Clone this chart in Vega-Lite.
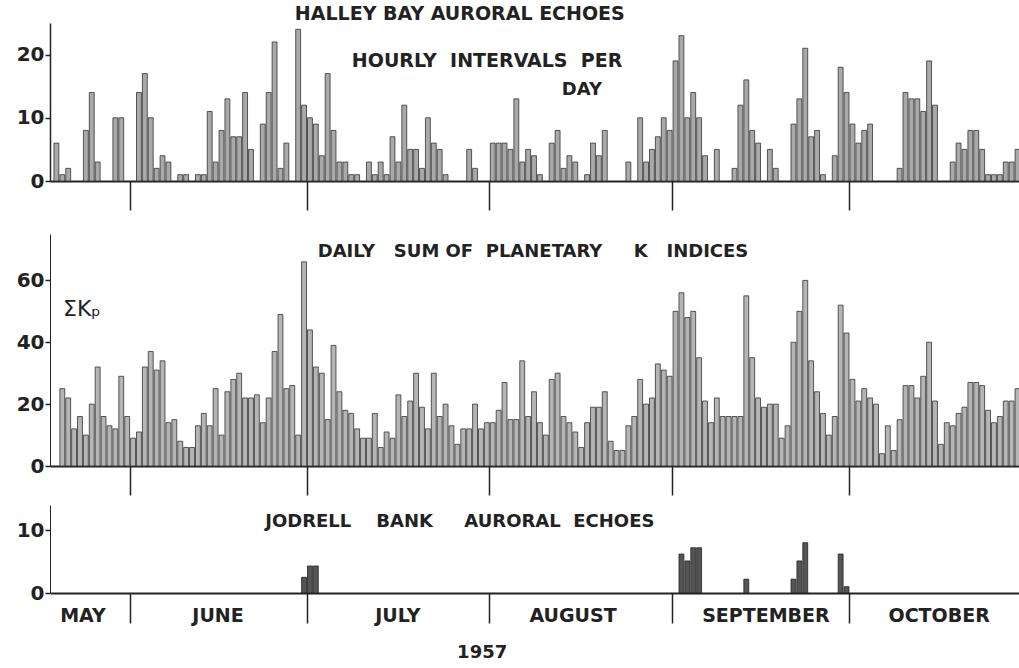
{
  "$schema": "https://vega.github.io/schema/vega-lite/v6.json",
  "background": "white",
  "padding": {"left": 16, "top": 5, "right": 0, "bottom": 0},
  "config": {
    "view": {"stroke": null},
    "font": "DejaVu Sans",
    "axis": {"grid": false, "domainColor": "#222", "tickColor": "#222", "labelColor": "#222", "labelFont": "DejaVu Sans", "labelFontWeight": "bold", "labelFontSize": 20, "titleFont": "DejaVu Sans"},
    "text": {"font": "DejaVu Sans", "fontWeight": "bold", "fill": "#222"}
  },
  "datasets": {
    "halley": [
      {"d":"1957-05-19","v":6},{"d":"1957-05-20","v":1},{"d":"1957-05-21","v":2},{"d":"1957-05-24","v":8},{"d":"1957-05-25","v":14},{"d":"1957-05-26","v":3},{"d":"1957-05-29","v":10},{"d":"1957-05-30","v":10},
      {"d":"1957-06-02","v":14},{"d":"1957-06-03","v":17},{"d":"1957-06-04","v":10},{"d":"1957-06-05","v":2},{"d":"1957-06-06","v":4},{"d":"1957-06-07","v":3},{"d":"1957-06-09","v":1},{"d":"1957-06-10","v":1},{"d":"1957-06-12","v":1},{"d":"1957-06-13","v":1},{"d":"1957-06-14","v":11},{"d":"1957-06-15","v":3},{"d":"1957-06-16","v":8},{"d":"1957-06-17","v":13},{"d":"1957-06-18","v":7},{"d":"1957-06-19","v":7},{"d":"1957-06-20","v":14},{"d":"1957-06-21","v":5},{"d":"1957-06-23","v":9},{"d":"1957-06-24","v":14},{"d":"1957-06-25","v":22},{"d":"1957-06-26","v":2},{"d":"1957-06-27","v":6},{"d":"1957-06-29","v":24},{"d":"1957-06-30","v":12},
      {"d":"1957-07-01","v":10},{"d":"1957-07-02","v":9},{"d":"1957-07-03","v":4},{"d":"1957-07-04","v":17},{"d":"1957-07-05","v":8},{"d":"1957-07-06","v":3},{"d":"1957-07-07","v":3},{"d":"1957-07-08","v":1},{"d":"1957-07-09","v":1},{"d":"1957-07-11","v":3},{"d":"1957-07-12","v":1},{"d":"1957-07-13","v":3},{"d":"1957-07-14","v":1},{"d":"1957-07-15","v":7},{"d":"1957-07-16","v":3},{"d":"1957-07-17","v":12},{"d":"1957-07-18","v":5},{"d":"1957-07-19","v":5},{"d":"1957-07-20","v":2},{"d":"1957-07-21","v":10},{"d":"1957-07-22","v":6},{"d":"1957-07-23","v":5},{"d":"1957-07-24","v":1},{"d":"1957-07-28","v":5},{"d":"1957-07-29","v":2},
      {"d":"1957-08-01","v":6},{"d":"1957-08-02","v":6},{"d":"1957-08-03","v":6},{"d":"1957-08-04","v":5},{"d":"1957-08-05","v":13},{"d":"1957-08-06","v":3},{"d":"1957-08-07","v":5},{"d":"1957-08-08","v":4},{"d":"1957-08-09","v":1},{"d":"1957-08-11","v":6},{"d":"1957-08-12","v":8},{"d":"1957-08-13","v":2},{"d":"1957-08-14","v":4},{"d":"1957-08-15","v":3},{"d":"1957-08-17","v":1},{"d":"1957-08-18","v":6},{"d":"1957-08-19","v":4},{"d":"1957-08-20","v":8},{"d":"1957-08-24","v":3},{"d":"1957-08-26","v":10},{"d":"1957-08-27","v":3},{"d":"1957-08-28","v":5},{"d":"1957-08-29","v":7},{"d":"1957-08-30","v":10},{"d":"1957-08-31","v":8},
      {"d":"1957-09-01","v":19},{"d":"1957-09-02","v":23},{"d":"1957-09-03","v":10},{"d":"1957-09-04","v":14},{"d":"1957-09-05","v":10},{"d":"1957-09-06","v":4},{"d":"1957-09-08","v":5},{"d":"1957-09-11","v":2},{"d":"1957-09-12","v":12},{"d":"1957-09-13","v":16},{"d":"1957-09-14","v":8},{"d":"1957-09-15","v":6},{"d":"1957-09-17","v":5},{"d":"1957-09-18","v":2},{"d":"1957-09-21","v":9},{"d":"1957-09-22","v":13},{"d":"1957-09-23","v":21},{"d":"1957-09-24","v":7},{"d":"1957-09-25","v":8},{"d":"1957-09-26","v":1},{"d":"1957-09-28","v":4},{"d":"1957-09-29","v":18},{"d":"1957-09-30","v":14},
      {"d":"1957-10-01","v":9},{"d":"1957-10-02","v":6},{"d":"1957-10-03","v":8},{"d":"1957-10-04","v":9},{"d":"1957-10-09","v":2},{"d":"1957-10-10","v":14},{"d":"1957-10-11","v":13},{"d":"1957-10-12","v":13},{"d":"1957-10-13","v":11},{"d":"1957-10-14","v":19},{"d":"1957-10-15","v":12},{"d":"1957-10-18","v":3},{"d":"1957-10-19","v":6},{"d":"1957-10-20","v":5},{"d":"1957-10-21","v":8},{"d":"1957-10-22","v":8},{"d":"1957-10-23","v":5},{"d":"1957-10-24","v":1},{"d":"1957-10-25","v":1},{"d":"1957-10-26","v":1},{"d":"1957-10-27","v":3},{"d":"1957-10-28","v":3},{"d":"1957-10-29","v":5}
    ],
    "kp": [
      {"d":"1957-05-20","v":25},{"d":"1957-05-21","v":22},{"d":"1957-05-22","v":12},{"d":"1957-05-23","v":16},{"d":"1957-05-24","v":10},{"d":"1957-05-25","v":20},{"d":"1957-05-26","v":32},{"d":"1957-05-27","v":16},{"d":"1957-05-28","v":13},{"d":"1957-05-29","v":12},{"d":"1957-05-30","v":29},{"d":"1957-05-31","v":16},
      {"d":"1957-06-01","v":9},{"d":"1957-06-02","v":11},{"d":"1957-06-03","v":32},{"d":"1957-06-04","v":37},{"d":"1957-06-05","v":31},{"d":"1957-06-06","v":34},{"d":"1957-06-07","v":14},{"d":"1957-06-08","v":15},{"d":"1957-06-09","v":8},{"d":"1957-06-10","v":6},{"d":"1957-06-11","v":6},{"d":"1957-06-12","v":13},{"d":"1957-06-13","v":17},{"d":"1957-06-14","v":13},{"d":"1957-06-15","v":25},{"d":"1957-06-16","v":10},{"d":"1957-06-17","v":24},{"d":"1957-06-18","v":28},{"d":"1957-06-19","v":30},{"d":"1957-06-20","v":22},{"d":"1957-06-21","v":22},{"d":"1957-06-22","v":23},{"d":"1957-06-23","v":14},{"d":"1957-06-24","v":22},{"d":"1957-06-25","v":37},{"d":"1957-06-26","v":49},{"d":"1957-06-27","v":25},{"d":"1957-06-28","v":26},{"d":"1957-06-29","v":10},{"d":"1957-06-30","v":66},
      {"d":"1957-07-01","v":44},{"d":"1957-07-02","v":32},{"d":"1957-07-03","v":30},{"d":"1957-07-04","v":15},{"d":"1957-07-05","v":39},{"d":"1957-07-06","v":24},{"d":"1957-07-07","v":18},{"d":"1957-07-08","v":17},{"d":"1957-07-09","v":12},{"d":"1957-07-10","v":9},{"d":"1957-07-11","v":9},{"d":"1957-07-12","v":17},{"d":"1957-07-13","v":6},{"d":"1957-07-14","v":11},{"d":"1957-07-15","v":9},{"d":"1957-07-16","v":23},{"d":"1957-07-17","v":16},{"d":"1957-07-18","v":21},{"d":"1957-07-19","v":30},{"d":"1957-07-20","v":19},{"d":"1957-07-21","v":12},{"d":"1957-07-22","v":30},{"d":"1957-07-23","v":16},{"d":"1957-07-24","v":20},{"d":"1957-07-25","v":13},{"d":"1957-07-26","v":7},{"d":"1957-07-27","v":12},{"d":"1957-07-28","v":12},{"d":"1957-07-29","v":20},{"d":"1957-07-30","v":12},{"d":"1957-07-31","v":14},
      {"d":"1957-08-01","v":14},{"d":"1957-08-02","v":18},{"d":"1957-08-03","v":27},{"d":"1957-08-04","v":15},{"d":"1957-08-05","v":15},{"d":"1957-08-06","v":34},{"d":"1957-08-07","v":16},{"d":"1957-08-08","v":24},{"d":"1957-08-09","v":14},{"d":"1957-08-10","v":10},{"d":"1957-08-11","v":28},{"d":"1957-08-12","v":30},{"d":"1957-08-13","v":16},{"d":"1957-08-14","v":14},{"d":"1957-08-15","v":11},{"d":"1957-08-16","v":6},{"d":"1957-08-17","v":14},{"d":"1957-08-18","v":19},{"d":"1957-08-19","v":19},{"d":"1957-08-20","v":24},{"d":"1957-08-21","v":8},{"d":"1957-08-22","v":5},{"d":"1957-08-23","v":5},{"d":"1957-08-24","v":13},{"d":"1957-08-25","v":16},{"d":"1957-08-26","v":28},{"d":"1957-08-27","v":20},{"d":"1957-08-28","v":22},{"d":"1957-08-29","v":33},{"d":"1957-08-30","v":31},{"d":"1957-08-31","v":29},
      {"d":"1957-09-01","v":50},{"d":"1957-09-02","v":56},{"d":"1957-09-03","v":48},{"d":"1957-09-04","v":50},{"d":"1957-09-05","v":35},{"d":"1957-09-06","v":21},{"d":"1957-09-07","v":14},{"d":"1957-09-08","v":22},{"d":"1957-09-09","v":16},{"d":"1957-09-10","v":16},{"d":"1957-09-11","v":16},{"d":"1957-09-12","v":16},{"d":"1957-09-13","v":55},{"d":"1957-09-14","v":35},{"d":"1957-09-15","v":22},{"d":"1957-09-16","v":19},{"d":"1957-09-17","v":20},{"d":"1957-09-18","v":20},{"d":"1957-09-19","v":9},{"d":"1957-09-20","v":13},{"d":"1957-09-21","v":40},{"d":"1957-09-22","v":50},{"d":"1957-09-23","v":60},{"d":"1957-09-24","v":34},{"d":"1957-09-25","v":24},{"d":"1957-09-26","v":17},{"d":"1957-09-27","v":10},{"d":"1957-09-28","v":16},{"d":"1957-09-29","v":52},{"d":"1957-09-30","v":43},
      {"d":"1957-10-01","v":28},{"d":"1957-10-02","v":21},{"d":"1957-10-03","v":25},{"d":"1957-10-04","v":22},{"d":"1957-10-05","v":20},{"d":"1957-10-06","v":4},{"d":"1957-10-07","v":13},{"d":"1957-10-08","v":5},{"d":"1957-10-09","v":15},{"d":"1957-10-10","v":26},{"d":"1957-10-11","v":26},{"d":"1957-10-12","v":22},{"d":"1957-10-13","v":29},{"d":"1957-10-14","v":40},{"d":"1957-10-15","v":21},{"d":"1957-10-16","v":7},{"d":"1957-10-17","v":14},{"d":"1957-10-18","v":13},{"d":"1957-10-19","v":17},{"d":"1957-10-20","v":19},{"d":"1957-10-21","v":27},{"d":"1957-10-22","v":27},{"d":"1957-10-23","v":26},{"d":"1957-10-24","v":18},{"d":"1957-10-25","v":14},{"d":"1957-10-26","v":16},{"d":"1957-10-27","v":21},{"d":"1957-10-28","v":21},{"d":"1957-10-29","v":25}
    ],
    "jodrell": [
      {"d":"1957-06-30","v":2.5},{"d":"1957-07-01","v":4.3},{"d":"1957-07-02","v":4.3},
      {"d":"1957-09-02","v":6.2},{"d":"1957-09-03","v":5.1},{"d":"1957-09-04","v":7.2},{"d":"1957-09-05","v":7.2},
      {"d":"1957-09-13","v":2.2},{"d":"1957-09-21","v":2.2},{"d":"1957-09-22","v":5.1},{"d":"1957-09-23","v":8},
      {"d":"1957-09-29","v":6.2},{"d":"1957-09-30","v":1}
    ],
    "months": [
      {"month":"MAY","mid":"1957-05-24T02:00:00Z"},
      {"month":"JUNE","mid":"1957-06-16T00:00:00Z"},
      {"month":"JULY","mid":"1957-07-16T12:00:00Z"},
      {"month":"AUGUST","mid":"1957-08-15T05:00:00Z"},
      {"month":"SEPTEMBER","mid":"1957-09-16T22:00:00Z"},
      {"month":"OCTOBER","mid":"1957-10-16T07:00:00Z"}
    ]
  },
  "spacing": 23,
  "vconcat": [
    {
      "width": 969,
      "height": 158,
      "layer": [
        {
          "data": {"name": "halley"},
          "mark": {"type": "bar", "fill": "#a9a9a9", "stroke": "#333", "strokeWidth": 0.8},
          "encoding": {
            "x": {"field": "d", "type": "temporal", "timeUnit": "utcyearmonthdate",
              "scale": {"domain": [{"year":1957,"month":5,"date":18,"hours":12,"utc":true},{"year":1957,"month":10,"date":29,"hours":20,"utc":true}]},
              "axis": {"values": [{"year":1957,"month":6,"date":1,"utc":true},{"year":1957,"month":7,"date":1,"utc":true},{"year":1957,"month":8,"date":1,"utc":true},{"year":1957,"month":9,"date":1,"utc":true},{"year":1957,"month":10,"date":1,"utc":true}],
                "labels": false, "title": null, "tickSize": 29, "tickWidth": 1.5, "domainWidth": 2}},
            "y": {"field": "v", "type": "quantitative", "scale": {"domain": [0, 25], "nice": false},
              "axis": {"values": [0, 10, 20], "title": null, "tickSize": 5, "tickWidth": 1.5, "labelPadding": 1, "domainWidth": 1.5}}
          }
        },
        {
          "data": {"values": [{}]},
          "mark": {"type": "text", "text": "HALLEY BAY AURORAL ECHOES", "fontSize": 19},
          "encoding": {"x": {"datum": {"year":1957,"month":7,"date":27,"utc":true}, "type": "temporal"}, "y": {"datum": 26.4, "type": "quantitative"}}
        },
        {
          "data": {"values": [{}]},
          "mark": {"type": "text", "text": "HOURLY\u00a0 INTERVALS\u00a0 PER", "fontSize": 19},
          "encoding": {"x": {"datum": {"year":1957,"month":7,"date":31,"hours":15,"utc":true}, "type": "temporal"}, "y": {"datum": 19, "type": "quantitative"}}
        },
        {
          "data": {"values": [{}]},
          "mark": {"type": "text", "text": "DAY", "fontSize": 18},
          "encoding": {"x": {"datum": {"year":1957,"month":8,"date":16,"hours":17,"utc":true}, "type": "temporal"}, "y": {"datum": 14.4, "type": "quantitative"}}
        }
      ]
    },
    {
      "spacing": 9,
      "vconcat": [
        {
          "width": 969,
          "height": 232,
          "layer": [
            {
              "data": {"name": "kp"},
              "mark": {"type": "bar", "fill": "#b5b5b5", "stroke": "#333", "strokeWidth": 0.8},
              "encoding": {
                "x": {"field": "d", "type": "temporal", "timeUnit": "utcyearmonthdate",
                  "scale": {"domain": [{"year":1957,"month":5,"date":18,"hours":12,"utc":true},{"year":1957,"month":10,"date":29,"hours":20,"utc":true}]},
                  "axis": {"values": [{"year":1957,"month":6,"date":1,"utc":true},{"year":1957,"month":7,"date":1,"utc":true},{"year":1957,"month":8,"date":1,"utc":true},{"year":1957,"month":9,"date":1,"utc":true},{"year":1957,"month":10,"date":1,"utc":true}],
                    "labels": false, "title": null, "tickSize": 29, "tickWidth": 1.5, "domainWidth": 2}},
                "y": {"field": "v", "type": "quantitative", "scale": {"domain": [0, 75], "nice": false},
                  "axis": {"values": [0, 20, 40, 60], "title": null, "tickSize": 5, "tickWidth": 1.5, "labelPadding": 1, "domainWidth": 1}}
              }
            },
            {
              "data": {"values": [{}]},
              "mark": {"type": "text", "text": "DAILY\u00a0\u00a0 SUM OF\u00a0 PLANETARY\u00a0\u00a0\u00a0\u00a0 K\u00a0\u00a0 INDICES", "fontSize": 18},
              "encoding": {"x": {"datum": {"year":1957,"month":8,"date":8,"hours":10,"utc":true}, "type": "temporal"}, "y": {"datum": 69.2, "type": "quantitative"}}
            },
            {
              "data": {"values": [{}]},
              "mark": {"type": "text", "text": "ΣKₚ", "fontSize": 22, "fontWeight": "normal", "align": "left"},
              "encoding": {"x": {"datum": {"year":1957,"month":5,"date":20,"hours":17,"utc":true}, "type": "temporal"}, "y": {"datum": 50.8, "type": "quantitative"}}
            }
          ]
        },
        {
          "width": 969,
          "height": 88,
          "layer": [
            {
              "data": {"name": "jodrell"},
              "mark": {"type": "bar", "fill": "#555", "stroke": "#222", "strokeWidth": 0.8},
              "encoding": {
                "x": {"field": "d", "type": "temporal", "timeUnit": "utcyearmonthdate",
                  "scale": {"domain": [{"year":1957,"month":5,"date":18,"hours":12,"utc":true},{"year":1957,"month":10,"date":29,"hours":20,"utc":true}]},
                  "axis": {"values": [{"year":1957,"month":6,"date":1,"utc":true},{"year":1957,"month":7,"date":1,"utc":true},{"year":1957,"month":8,"date":1,"utc":true},{"year":1957,"month":9,"date":1,"utc":true},{"year":1957,"month":10,"date":1,"utc":true}],
                    "labels": false, "title": null, "tickSize": 30, "tickWidth": 1.5, "domainWidth": 2}},
                "y": {"field": "v", "type": "quantitative", "scale": {"domain": [0, 14], "nice": false},
                  "axis": {"values": [0, 10], "title": null, "tickSize": 5, "tickWidth": 1.5, "labelPadding": 1, "domainWidth": 1}}
              }
            },
            {
              "data": {"values": [{}]},
              "mark": {"type": "text", "text": "JODRELL\u00a0\u00a0\u00a0 BANK\u00a0\u00a0\u00a0\u00a0 AURORAL\u00a0 ECHOES", "fontSize": 18},
              "encoding": {"x": {"datum": {"year":1957,"month":7,"date":27,"utc":true}, "type": "temporal"}, "y": {"datum": 11.3, "type": "quantitative"}}
            },
            {
              "data": {"name": "months"},
              "mark": {"type": "text", "fontSize": 19, "dy": 23},
              "encoding": {"x": {"field": "mid", "type": "temporal"}, "y": {"datum": 0, "type": "quantitative"}, "text": {"field": "month"}}
            },
            {
              "data": {"values": [{}]},
              "mark": {"type": "text", "text": "1957", "fontSize": 18, "dy": 60},
              "encoding": {"x": {"datum": {"year":1957,"month":7,"date":30,"hours":19,"utc":true}, "type": "temporal"}, "y": {"datum": 0, "type": "quantitative"}}
            }
          ]
        }
      ]
    }
  ]
}
